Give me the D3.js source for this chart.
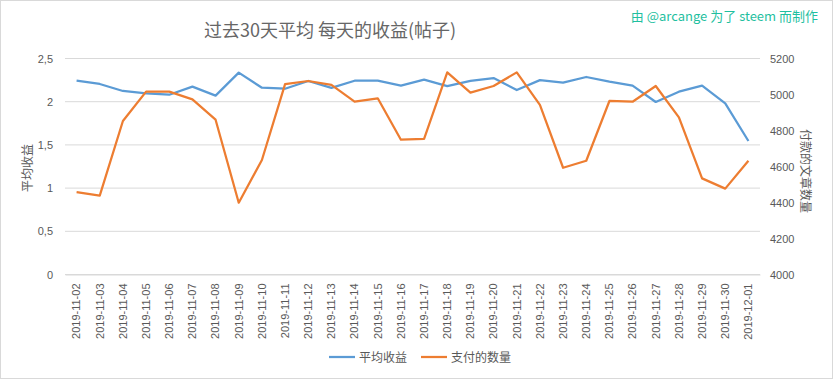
<!DOCTYPE html>
<html><head><meta charset="utf-8">
<script src="https://cdn.jsdelivr.net/npm/d3@7"></script>
<style>body{margin:0;background:#fff}svg{display:block}</style>
</head><body>
<svg id="c" width="833" height="379"></svg>
<script>
const categories = ["2019-11-02","2019-11-03","2019-11-04","2019-11-05","2019-11-06","2019-11-07","2019-11-08","2019-11-09","2019-11-10","2019-11-11","2019-11-12","2019-11-13","2019-11-14","2019-11-15","2019-11-16","2019-11-17","2019-11-18","2019-11-19","2019-11-20","2019-11-21","2019-11-22","2019-11-23","2019-11-24","2019-11-25","2019-11-26","2019-11-27","2019-11-28","2019-11-29","2019-11-30","2019-12-01"];
const avgReward = [2.243,2.205,2.124,2.097,2.081,2.174,2.07,2.336,2.162,2.15,2.24,2.16,2.243,2.243,2.186,2.255,2.18,2.24,2.274,2.135,2.25,2.22,2.286,2.232,2.186,1.997,2.116,2.186,1.98,1.545];
const paidCount = [4458,4438,4853,5016,5016,4973,4860,4399,4636,5058,5075,5053,4960,4979,4749,4754,5123,5010,5047,5123,4942,4593,4632,4964,4960,5047,4873,4534,4477,4632];
const leftTicks = [0,0.5,1,1.5,2,2.5];
const rightTicks = [4000,4200,4400,4600,4800,5000,5200];
const seriesNames = ["平均收益","支付的数量"];
const colors = ["#5b9bd5","#ed7d31"];

const svg = d3.select("#c");
const W=833,H=379;
const m={l:65,r:73,t:58.5,b:104.5};
const cjk = "'Noto Sans CJK SC','Microsoft YaHei',sans-serif";
const txt = "#595959";

svg.append("rect").attr("x",0.5).attr("y",0.5).attr("width",W-1).attr("height",H-1).attr("fill","#fff").attr("stroke","#d9d9d9");

const x = d3.scaleBand().domain(categories).range([m.l, W-m.r]);
const yL = d3.scaleLinear().domain([0,2.5]).range([H-m.b, m.t]);
const yR = d3.scaleLinear().domain([4000,5200]).range([H-m.b, m.t]);

// gridlines
svg.append("g").selectAll("line").data(leftTicks).join("line")
  .attr("x1",m.l).attr("x2",W-m.r).attr("y1",d=>yL(d)).attr("y2",d=>yL(d))
  .attr("stroke","#d9d9d9").attr("stroke-width",1);

// left axis
const gl = svg.append("g").attr("transform",`translate(${m.l},0)`)
  .call(d3.axisLeft(yL).tickValues(leftTicks).tickSize(0).tickPadding(12).tickFormat(d=>String(d).replace(".",",")));
gl.select(".domain").remove();
gl.selectAll("text").attr("fill",txt).attr("font-family","'Liberation Sans',Arial,sans-serif").attr("font-size",11);

// right axis
const gr = svg.append("g").attr("transform",`translate(${W-m.r},0)`)
  .call(d3.axisRight(yR).tickValues(rightTicks).tickSize(0).tickPadding(10).tickFormat(d=>String(d)));
gr.select(".domain").remove();
gr.selectAll("text").attr("fill",txt).attr("font-family","'Liberation Sans',Arial,sans-serif").attr("font-size",11);

// x axis
const gx = svg.append("g").attr("transform",`translate(0,${H-m.b})`)
  .call(d3.axisBottom(x).tickSize(0).tickPadding(0));
gx.select(".domain").attr("stroke","#d9d9d9");
gx.selectAll("text").attr("fill",txt).attr("font-family","'Liberation Sans',Arial,sans-serif").attr("font-size",11)
  .attr("text-anchor","end").attr("dy","0.35em").attr("transform","translate(0,9) rotate(-90)");

// lines
const cx = d=>x(d)+x.bandwidth()/2;
svg.append("path").datum(avgReward).attr("fill","none").attr("stroke",colors[0]).attr("stroke-width",2.25)
  .attr("stroke-linejoin","round").attr("d",d3.line().x((d,i)=>cx(categories[i])).y(d=>yL(d)));
svg.append("path").datum(paidCount).attr("fill","none").attr("stroke",colors[1]).attr("stroke-width",2.25)
  .attr("stroke-linejoin","round").attr("d",d3.line().x((d,i)=>cx(categories[i])).y(d=>yR(d)));

// title
svg.append("text").attr("x",330).attr("y",37).attr("text-anchor","middle").attr("fill","#666")
  .attr("font-family",cjk).attr("font-size",18).text("过去30天平均 每天的收益(帖子)");
// credit
svg.append("text").attr("x",818).attr("y",21).attr("text-anchor","end").attr("fill","#1fbf9f")
  .attr("font-family",cjk).attr("font-size",13).text("由 @arcange 为了 steem 而制作");

// axis titles
svg.append("text").attr("transform",`translate(32,168) rotate(-90)`).attr("text-anchor","middle")
  .attr("fill",txt).attr("font-family",cjk).attr("font-size",12).text("平均收益");
svg.append("text").attr("transform",`translate(801,171) rotate(90)`).attr("text-anchor","middle")
  .attr("fill",txt).attr("font-family",cjk).attr("font-size",12).text("付款的文章数量");

// legend
const lg = svg.append("g");
const lx = [329,421];
seriesNames.forEach((n,i)=>{
  lg.append("line").attr("x1",lx[i]).attr("x2",lx[i]+26).attr("y1",357).attr("y2",357).attr("stroke",colors[i]).attr("stroke-width",2.25);
  lg.append("text").attr("x",lx[i]+30).attr("y",361.5).attr("fill",txt).attr("font-family",cjk).attr("font-size",12).text(n);
});
</script>
</body></html>
